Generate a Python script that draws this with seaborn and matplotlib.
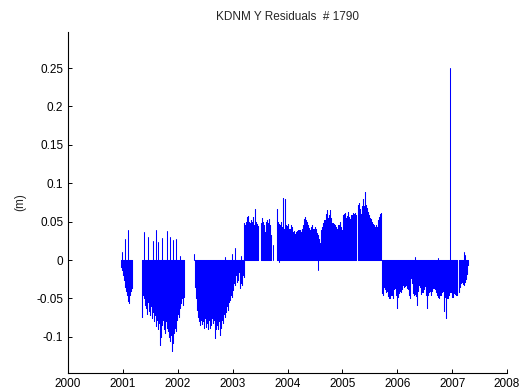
import matplotlib
matplotlib.use("Agg")
import numpy as np
import pandas as pd
import matplotlib.pyplot as plt
import seaborn as sns

# Daily residual series, one value per plotted column (spacing STEP years)
STEP = 1 / 54.9

seg_a_start = 2000.965
seg_a = [-0.009, -0.013, -0.020, -0.026, -0.035, -0.040, -0.046, -0.054,
         -0.056, -0.046, -0.040, -0.037]

seg_b_start = 2001.348
seg_b = [-0.074, -0.045, -0.050, -0.058, -0.062, -0.070, -0.055, -0.066,
         -0.072, -0.060, -0.075, -0.068, -0.080, -0.072, -0.086, -0.078,
         -0.090, -0.082, -0.110, -0.100, -0.085, -0.078, -0.090, -0.095,
         -0.080, -0.088, -0.093, -0.100, -0.105, -0.098, -0.119, -0.108,
         -0.095, -0.088, -0.092, -0.078, -0.070, -0.074, -0.062, -0.056,
         -0.050, -0.058, -0.048]

seg_c_start = 2002.313
seg_c = [-0.035, -0.050, -0.065, -0.074, -0.080, -0.085, -0.078, -0.083,
         -0.080, -0.088, -0.075, -0.087, -0.082, -0.090, -0.078, -0.089,
         -0.084, -0.075, -0.082, -0.078, -0.102, -0.090, -0.085, -0.090,
         -0.080, -0.098, -0.088, -0.078, -0.082, -0.070, -0.074, -0.068,
         -0.060, -0.065, -0.055, -0.052, -0.045, -0.048, -0.039, -0.030,
         -0.033, -0.020, -0.028, -0.026, -0.015, -0.037, -0.030, -0.033,
         -0.020, -0.022]

seg_d1_start = 2003.206
seg_d1 = [0.048, 0.046, 0.050, 0.056, 0.057, 0.050, 0.048, 0.052, 0.050,
          0.056, 0.045, 0.066, 0.050, 0.047, 0.044]

seg_d2_start = 2003.516
seg_d2 = [0.048, 0.055, 0.050, 0.045, 0.037, 0.050, 0.052, 0.048, 0.054,
          0.045, 0.033]

seg_d3_start = 2003.807
seg_d3 = [0.066, 0.050, 0.047, 0.045, 0.050, 0.043, 0.081, 0.041, 0.079,
          0.045, 0.044, 0.047, 0.040, 0.041, 0.045, 0.043, 0.036, 0.038,
          0.034, 0.036, 0.038, 0.039, 0.039, 0.039, 0.037, 0.041, 0.045,
          0.054, 0.056, 0.052, 0.050, 0.045, 0.042, 0.039, 0.043, 0.045,
          0.041, 0.040, 0.043, 0.040, 0.035, 0.033, 0.028, 0.022, 0.039,
          0.043, 0.048, 0.052, 0.052, 0.060, 0.065, 0.055, 0.058, 0.065,
          0.055, 0.048, 0.048, 0.047, 0.046, 0.043, 0.041, 0.045, 0.046,
          0.049, 0.043, 0.039, 0.058, 0.060, 0.061, 0.055, 0.057, 0.063,
          0.056, 0.053, 0.059, 0.058, 0.061, 0.060, 0.061, 0.058]

seg_d4_start = 2005.282
seg_d4 = [0.072, 0.074, 0.066, 0.060, 0.070, 0.079, 0.070, 0.089, 0.072,
          0.068, 0.062, 0.058, 0.055, 0.054, 0.050, 0.047, 0.045, 0.043,
          0.045, 0.043, 0.052, 0.056, 0.060, 0.061]

seg_e_start = 2005.720
seg_e = [-0.043, -0.045, -0.035, -0.038, -0.042, -0.040, -0.047, -0.050,
         -0.049, -0.045, -0.046, -0.050, -0.038, -0.036, -0.045, -0.063,
         -0.048, -0.043, -0.040, -0.041, -0.038, -0.033, -0.035, -0.034,
         -0.032, -0.036, -0.038, -0.046, -0.050, -0.024, -0.030, -0.043,
         -0.045, -0.044, -0.047, -0.059, -0.040, -0.033, -0.035, -0.044,
         -0.042, -0.042, -0.038, -0.034, -0.045, -0.062, -0.045, -0.042,
         -0.040, -0.046, -0.040, -0.036, -0.037, -0.038, -0.042, -0.045,
         -0.048, -0.050, -0.046, -0.045, -0.042, -0.040, -0.066, -0.048,
         -0.076, -0.050, -0.050, -0.045, -0.042, -0.041, -0.048, -0.048,
         -0.043, -0.044, -0.045, -0.046]

seg_f_start = 2007.122
seg_f = [-0.041, -0.035, -0.030, -0.028, -0.031, -0.033, -0.028, -0.025,
         -0.018, -0.007]

# Isolated residuals standing out from the surrounding days
spike_years = [2000.978, 2001.038, 2001.087,
               2001.390, 2001.463, 2001.543, 2001.612, 2001.645, 2001.707,
               2001.812, 2001.858, 2001.907, 2001.976, 2002.040,
               2002.290, 2002.860, 2002.987, 2003.042, 2003.151,
               2003.740, 2003.849, 2004.559,
               2006.326, 2006.740, 2006.967, 2007.208, 2007.237]
spike_values = [0.010, 0.027, 0.039,
                0.036, 0.030, 0.025, 0.039, 0.024, 0.029,
                0.038, 0.030, 0.026, 0.027, 0.005,
                0.008, 0.004, 0.008, 0.016, 0.005,
                0.020, -0.003, -0.013,
                0.004, 0.002, 0.250, 0.011, 0.006]

x_ticks = list(range(2000, 2009))
y_ticks = [-0.1, -0.05, 0, 0.05, 0.1, 0.15, 0.2, 0.25]
y_tick_labels = ["-0.1", "-0.05", "0", "0.05", "0.1", "0.15", "0.2", "0.25"]

segments = [(seg_a_start, seg_a), (seg_b_start, seg_b), (seg_c_start, seg_c),
            (seg_d1_start, seg_d1), (seg_d2_start, seg_d2),
            (seg_d3_start, seg_d3), (seg_d4_start, seg_d4),
            (seg_e_start, seg_e), (seg_f_start, seg_f)]

# Each residual is drawn as a stem from zero; a segment is one polyline
rows = []
for k, (start, vals) in enumerate(segments):
    for i, v in enumerate(vals):
        t = start + i * STEP
        rows += [(k, t, 0.0), (k, t, v), (k, t, 0.0)]
for j, (t, v) in enumerate(zip(spike_years, spike_values)):
    rows += [(100 + j, t, 0.0), (100 + j, t, v)]
df = pd.DataFrame(rows, columns=["unit", "year", "residual"])

sns.set_style("ticks")
plt.rcParams["font.family"] = ["Liberation Sans", "DejaVu Sans"]

fig = plt.figure(figsize=(5.22, 3.89), dpi=100)
ax = fig.add_axes([68 / 522, 1 - 373 / 389, 439 / 522, 341 / 389])

sns.lineplot(data=df, x="year", y="residual", units="unit", estimator=None,
             sort=False, color="#0000ff", linewidth=0.75, legend=False, ax=ax)

ax.set_xlim(2000, 2008)
ax.set_ylim(-0.1471, 0.2969)
ax.set_xticks(x_ticks)
ax.set_xticklabels([str(x) for x in x_ticks])
ax.set_yticks(y_ticks)
ax.set_yticklabels(y_tick_labels)
ax.tick_params(direction="in", length=3, width=0.7, labelsize=8.5, pad=3.5,
               colors="black")
for side in ["top", "right"]:
    ax.spines[side].set_visible(False)
for side in ["left", "bottom"]:
    ax.spines[side].set_linewidth(0.8)
    ax.spines[side].set_color("black")

ax.set_xlabel("")
ax.set_ylabel("(m)", fontsize=8.5, labelpad=7)
ax.set_title("KDNM Y Residuals  # 1790", fontsize=8.5, pad=9)

fig.savefig("out.png", dpi=100)
